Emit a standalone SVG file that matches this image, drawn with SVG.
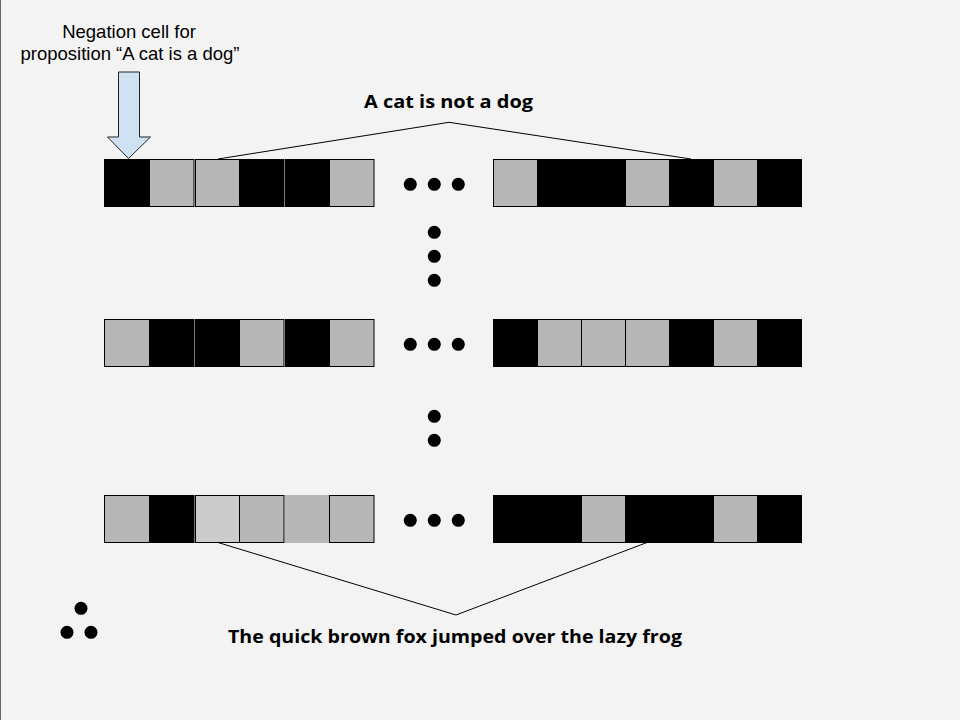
<svg xmlns="http://www.w3.org/2000/svg" width="960" height="720" viewBox="0 0 960 720">
<style>
.b{fill:#000;stroke:#000;stroke-width:1}
.g{fill:#b7b7b7;stroke:#000;stroke-width:1}
.l{fill:#cccccc;stroke:#000;stroke-width:1}
.n{fill:#b7b7b7;stroke:none}
.dot{fill:#000}
.conn{fill:none;stroke:#000;stroke-width:1}
.lbl{font-family:"Liberation Sans",Arial,sans-serif;font-size:18.5px;fill:#000}
.ttl{font-family:"Open Sans","DejaVu Sans",sans-serif;font-weight:bold;font-size:18px;fill:#000}
</style>
<rect x="0" y="0" width="960" height="720" fill="#f3f3f3"/>
<line x1="0.5" y1="0" x2="0.5" y2="720" stroke="#666" stroke-width="1"/>

<g id="label-negation">
<text class="lbl" x="129" y="37.5" text-anchor="middle">Negation cell for</text>
<text class="lbl" x="130" y="59.5" text-anchor="middle">proposition “A cat is a dog”</text>
</g>
<g id="arrow-negation">
<polygon points="118.5,72 139.5,72 139.5,137 150.5,137 128.5,158.5 107.5,137 118.5,137" fill="#cfe2f3" stroke="#222" stroke-width="1"/>
</g>

<g id="connectors">
<polyline class="conn" points="218,159 449,122.3 691,159"/>
<polyline class="conn" points="218,542.5 456,615 647,542.5"/>
</g>

<g id="row1-left">
<rect class="b" x="104.5" y="159.5" width="45" height="47"/>
<rect class="g" x="149.5" y="159.5" width="44.5" height="47"/>
<rect class="g" x="195.5" y="159.5" width="44" height="47"/>
<rect class="b" x="239.5" y="159.5" width="44.5" height="47"/>
<rect class="b" x="285.5" y="159.5" width="44" height="47"/>
<rect class="g" x="329.5" y="159.5" width="44.5" height="47"/>
</g>
<g id="row1-right">
<rect class="g" x="493.5" y="159.5" width="44" height="47"/>
<rect class="b" x="537.5" y="159.5" width="44" height="47"/>
<rect class="b" x="581.5" y="159.5" width="44" height="47"/>
<rect class="g" x="625.5" y="159.5" width="44" height="47"/>
<rect class="b" x="669.5" y="159.5" width="44" height="47"/>
<rect class="g" x="713.5" y="159.5" width="44" height="47"/>
<rect class="b" x="757.5" y="159.5" width="44" height="47"/>
</g>

<g id="row2-left">
<rect class="g" x="104.5" y="319.5" width="45" height="47"/>
<rect class="b" x="149.5" y="319.5" width="44.5" height="47"/>
<rect class="b" x="195.5" y="319.5" width="44" height="47"/>
<rect class="g" x="239.5" y="319.5" width="44.5" height="47"/>
<rect class="b" x="285.5" y="319.5" width="44" height="47"/>
<rect class="g" x="329.5" y="319.5" width="44.5" height="47"/>
</g>
<g id="row2-right">
<rect class="b" x="493.5" y="319.5" width="44" height="47"/>
<rect class="g" x="537.5" y="319.5" width="44" height="47"/>
<rect class="g" x="581.5" y="319.5" width="44" height="47"/>
<rect class="g" x="625.5" y="319.5" width="44" height="47"/>
<rect class="b" x="669.5" y="319.5" width="44" height="47"/>
<rect class="g" x="713.5" y="319.5" width="44" height="47"/>
<rect class="b" x="757.5" y="319.5" width="44" height="47"/>
</g>

<g id="row3-left">
<rect class="g" x="104.5" y="495.5" width="45" height="47"/>
<rect class="b" x="149.5" y="495.5" width="44.5" height="47"/>
<rect class="l" x="195.5" y="495.5" width="44" height="47"/>
<rect class="g" x="239.5" y="495.5" width="44.5" height="47"/>
<rect class="n" x="285" y="495" width="44.5" height="48"/>
<rect class="g" x="329.5" y="495.5" width="44.5" height="47"/>
</g>
<g id="row3-right">
<rect class="b" x="493.5" y="495.5" width="44" height="47"/>
<rect class="b" x="537.5" y="495.5" width="44" height="47"/>
<rect class="g" x="581.5" y="495.5" width="44" height="47"/>
<rect class="b" x="625.5" y="495.5" width="44" height="47"/>
<rect class="b" x="669.5" y="495.5" width="44" height="47"/>
<rect class="g" x="713.5" y="495.5" width="44" height="47"/>
<rect class="b" x="757.5" y="495.5" width="44" height="47"/>
</g>

<g id="dots">
<circle class="dot" cx="410.3" cy="184.3" r="6.5"/>
<circle class="dot" cx="434.3" cy="184.3" r="6.5"/>
<circle class="dot" cx="458.3" cy="184.3" r="6.5"/>
<circle class="dot" cx="434.3" cy="232.3" r="6.5"/>
<circle class="dot" cx="434.3" cy="256.3" r="6.5"/>
<circle class="dot" cx="434.3" cy="280.3" r="6.5"/>
<circle class="dot" cx="410.3" cy="344.3" r="6.5"/>
<circle class="dot" cx="434.3" cy="344.3" r="6.5"/>
<circle class="dot" cx="458.3" cy="344.3" r="6.5"/>
<circle class="dot" cx="434.3" cy="416.3" r="6.5"/>
<circle class="dot" cx="434.3" cy="440.3" r="6.5"/>
<circle class="dot" cx="410.3" cy="520.3" r="6.5"/>
<circle class="dot" cx="434.3" cy="520.3" r="6.5"/>
<circle class="dot" cx="458.3" cy="520.3" r="6.5"/>
<circle class="dot" cx="81" cy="608.3" r="6.5"/>
<circle class="dot" cx="67" cy="632.3" r="6.5"/>
<circle class="dot" cx="91" cy="632.3" r="6.5"/>
</g>

<g id="title-top">
<text class="ttl" x="448.5" y="107.7" text-anchor="middle" textLength="169" lengthAdjust="spacingAndGlyphs">A cat is not a dog</text>
</g>
<g id="title-bottom">
<text class="ttl" x="455" y="642.5" text-anchor="middle" textLength="454" lengthAdjust="spacingAndGlyphs">The quick brown fox jumped over the lazy frog</text>
</g>
</svg>
